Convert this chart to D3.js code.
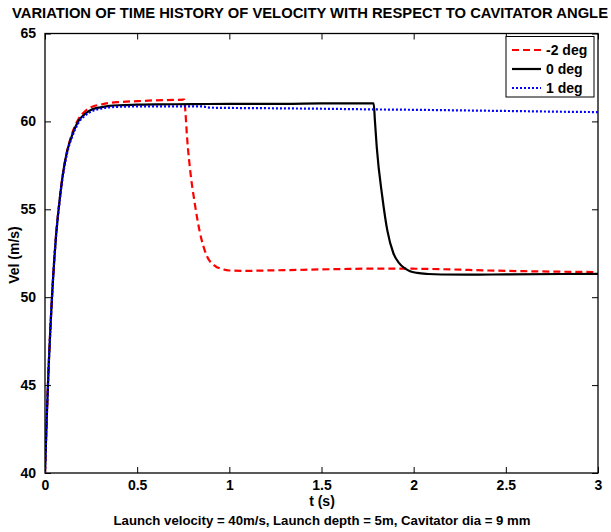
<!DOCTYPE html>
<html><head><meta charset="utf-8">
<script src="https://cdn.jsdelivr.net/npm/d3@7"></script>
<style>body{margin:0;background:#fff}svg{display:block}text{font-family:"Liberation Sans",Arial,sans-serif;font-weight:bold}</style>
</head><body>
<svg id="c" width="611" height="532"></svg>
<script>
const titleText = "VARIATION OF TIME HISTORY OF VELOCITY WITH RESPECT TO CAVITATOR ANGLE";
const xLabel = "t (s)";
const yLabel = "Vel (m/s)";
const subText = "Launch velocity = 40m/s, Launch depth = 5m, Cavitator dia = 9 mm";
const xTicks = [0, 0.5, 1, 1.5, 2, 2.5, 3];
const yTicks = [40, 45, 50, 55, 60, 65];
const seriesNames = ["-2 deg", "0 deg", "1 deg"];

const tRed = [0,0.01,0.02,0.03,0.04,0.05,0.06,0.08,0.10,0.12,0.15,0.18,0.22,0.26,0.30,0.35,0.40,0.50,0.60,0.70,0.755,0.762,0.77,0.79,0.81,0.84,0.88,0.92,0.96,1.00,1.10,1.20,1.40,1.60,1.80,2.00,2.20,2.40,2.60,2.80,3.00];
const vRed = [40,43.3,46.1,48.4,50.4,52.1,53.5,55.6,57.2,58.3,59.4,60.1,60.6,60.85,60.95,61.05,61.1,61.15,61.2,61.22,61.24,60.5,59.2,57.0,55.5,53.7,52.3,51.8,51.6,51.52,51.5,51.52,51.56,51.6,51.63,51.62,51.58,51.52,51.48,51.45,51.43];

const tBlack = [0,0.01,0.02,0.03,0.04,0.05,0.06,0.08,0.10,0.12,0.15,0.18,0.22,0.26,0.30,0.35,0.40,0.50,0.60,0.80,1.00,1.30,1.50,1.783,1.79,1.80,1.83,1.857,1.89,1.92,1.95,1.98,2.02,2.08,2.15,2.30,2.50,2.80,3.00];
const vBlack = [40,43.3,46.1,48.4,50.4,52.1,53.5,55.6,57.2,58.3,59.3,60.0,60.45,60.7,60.8,60.88,60.92,60.95,60.97,60.98,61.0,61.0,61.02,61.02,60.0,58.5,55.7,53.8,52.5,51.95,51.65,51.48,51.38,51.32,51.29,51.28,51.3,51.32,51.33];

const tBlue = [0,0.01,0.02,0.03,0.04,0.05,0.06,0.08,0.10,0.12,0.15,0.18,0.22,0.26,0.30,0.35,0.40,0.50,0.70,0.85,0.90,1.20,1.50,1.80,2.00,2.30,2.60,2.80,3.00];
const vBlue = [40,43.3,46.1,48.4,50.4,52.1,53.5,55.5,57.1,58.2,59.2,59.9,60.35,60.6,60.72,60.8,60.83,60.85,60.85,60.85,60.78,60.75,60.72,60.68,60.66,60.62,60.58,60.55,60.53];

const svg = d3.select("#c");
const L = 45, R = 598, T = 33.5, B = 473;
const x = d3.scaleLinear().domain([0, 3]).range([L, R]);
const y = d3.scaleLinear().domain([40, 65]).range([B, T]);

const line = d3.line().curve(d3.curveMonotoneX).x(d => x(d[0])).y(d => y(d[1]));
const series = [
  {name: seriesNames[0], pts: d3.zip(tRed, vRed), color: "#ff0000", dash: "7,4"},
  {name: seriesNames[1], pts: d3.zip(tBlack, vBlack), color: "#000000", dash: null},
  {name: seriesNames[2], pts: d3.zip(tBlue, vBlue), color: "#0000ff", dash: "2,2"}
];

const tl = 6;
svg.append("g").attr("transform", `translate(0,${B})`)
  .call(d3.axisBottom(x).tickValues(xTicks).tickSize(-tl).tickPadding(7).tickFormat(d3.format("")))
  .call(g => g.select(".domain").remove());
svg.append("g").attr("transform", `translate(0,${T})`)
  .call(d3.axisTop(x).tickValues(xTicks).tickSize(-tl).tickFormat(""))
  .call(g => g.select(".domain").remove());
svg.append("g").attr("transform", `translate(${L},0)`)
  .call(d3.axisLeft(y).tickValues(yTicks).tickSize(-tl).tickPadding(9))
  .call(g => g.select(".domain").remove());
svg.append("g").attr("transform", `translate(${R},0)`)
  .call(d3.axisRight(y).tickValues(yTicks).tickSize(-tl).tickFormat(""))
  .call(g => g.select(".domain").remove());
svg.selectAll(".tick line").attr("stroke", "#000").attr("stroke-width", 1);
svg.selectAll(".tick text").attr("font-size", 14).attr("fill", "#000")
  .style("font-family", '"Liberation Sans",Arial,sans-serif').style("font-weight", "bold");

svg.append("rect").attr("x", L).attr("y", T).attr("width", R - L).attr("height", B - T)
  .attr("fill", "none").attr("stroke", "#000").attr("stroke-width", 1.3);

svg.append("clipPath").attr("id", "pc").append("rect")
  .attr("x", L).attr("y", T).attr("width", R - L).attr("height", B - T);

svg.append("g").attr("clip-path", "url(#pc)").selectAll("path").data(series).join("path")
  .attr("d", d => line(d.pts)).attr("fill", "none").attr("stroke", d => d.color)
  .attr("stroke-width", 2.2).attr("stroke-dasharray", d => d.dash);

const lg = svg.append("g");
lg.append("rect").attr("x", 506).attr("y", 36.5).attr("width", 88).attr("height", 60.5)
  .attr("fill", "#fff").attr("stroke", "#000").attr("stroke-width", 1);
series.forEach((s, i) => {
  const yy = 50 + i * 19;
  lg.append("line").attr("x1", 512).attr("x2", 541).attr("y1", yy).attr("y2", yy)
    .attr("stroke", s.color).attr("stroke-width", 2.2).attr("stroke-dasharray", s.dash);
  lg.append("text").attr("x", 546).attr("y", yy + 5).attr("font-size", 14).text(s.name);
});

svg.append("text").attr("x", 310).attr("y", 18).attr("text-anchor", "middle").attr("font-size", 14)
  .attr("textLength", 596).attr("lengthAdjust", "spacingAndGlyphs").text(titleText);
svg.append("text").attr("x", 322).attr("y", 506).attr("text-anchor", "middle").attr("font-size", 14).text(xLabel);
svg.append("text").attr("x", 322).attr("y", 525).attr("text-anchor", "middle").attr("font-size", 12.5)
  .attr("textLength", 417).attr("lengthAdjust", "spacingAndGlyphs").text(subText);
svg.append("text").attr("transform", `translate(19,255) rotate(-90)`).attr("text-anchor", "middle").attr("font-size", 14).text(yLabel);
</script>
</body></html>
